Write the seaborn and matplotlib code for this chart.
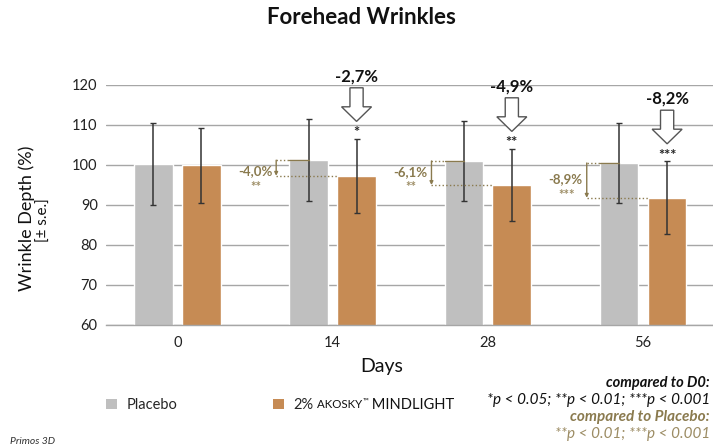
import matplotlib
matplotlib.use("Agg")
import matplotlib.pyplot as plt
from matplotlib.patches import FancyArrow, Patch
import seaborn as sns
import pandas as pd

# ---------------- data ----------------
days = ["0", "14", "28", "56"]
groups = ["Placebo", "2% AKOSKY™ MINDLIGHT"]
placebo = [100.2, 101.2, 101.0, 100.5]
active = [99.9, 97.3, 95.0, 91.8]
placebo_se = [10.3, 10.2, 9.9, 10.0]
active_se = [9.4, 9.2, 9.0, 9.1]
d0_change = ["", "-2,7%", "-4,9%", "-8,2%"]
d0_sig = ["", "*", "**", "***"]
pl_change = ["", "-4,0%", "-6,1%", "-8,9%"]
pl_sig = ["", "**", "**", "***"]

GRAY = "#BFBFBF"
BROWN = "#C68B54"
OLIVE = "#8A7A4E"
OLIVE_L = "#9C8C64"

sns.set_theme(style="white")
plt.rcParams["font.family"] = ["Lato", "DejaVu Sans"]

df = pd.DataFrame({
    "Days": days * 2,
    "value": placebo + active,
    "group": [groups[0]] * 4 + [groups[1]] * 4,
})

fig = plt.figure(figsize=(7.13, 4.46), dpi=100)
ax = fig.add_axes([106 / 713, 1 - 325 / 446, 1 - 106 / 713, (325 - 85) / 446])

sns.barplot(data=df, x="Days", y="value", hue="group", order=days,
            hue_order=groups, palette=[GRAY, BROWN], width=0.618, gap=0.194,
            errorbar=None, ax=ax, legend=False, zorder=2, saturation=1)

ax.set_ylim(60, 120)
ax.set_xlim(-0.459, 3.45)
ax.set_yticks(range(60, 121, 10))
ax.yaxis.grid(True, color="#A6A6A6", linewidth=1.0, zorder=0)
ax.set_axisbelow(True)
for s in ["top", "right", "left"]:
    ax.spines[s].set_visible(False)
ax.spines["bottom"].set_color("#A6A6A6")
ax.spines["bottom"].set_linewidth(1.0)
ax.tick_params(axis="both", length=0, labelsize=10.5, colors="#222222", pad=6)
ax.tick_params(axis="x", pad=8)
ax.set_xlabel("Days", fontsize=14, color="#111111", labelpad=6, x=0.455)
ax.set_ylabel("")

pl_bars = list(ax.containers[0])
ac_bars = list(ax.containers[1])

# error bars
for bars, v, se in [(pl_bars, placebo, placebo_se), (ac_bars, active, active_se)]:
    xs = [b.get_x() + b.get_width() / 2 for b in bars]
    ax.errorbar(xs, v, yerr=se, fmt="none", ecolor="#333333",
                elinewidth=1.1, capsize=2, capthick=1.0, zorder=3)

# annotations vs D0 (arrows) and vs placebo (brackets)
for i in range(len(days)):
    if not d0_change[i]:
        continue
    ab = ac_bars[i]
    xc = ab.get_x() + ab.get_width() / 2
    etop = active[i] + active_se[i]
    ax.text(xc, etop + 1.4, d0_sig[i], ha="center", va="center",
            fontsize=10.5, color="#222222", fontweight="bold")
    arr = FancyArrow(xc, etop + 12.8, 0, -8.4, width=0.085, head_width=0.193,
                     head_length=3.65, length_includes_head=True,
                     facecolor="white", edgecolor="#555555", linewidth=1.0,
                     zorder=4, clip_on=False)
    ax.add_patch(arr)
    ax.text(xc, etop + 15.7, d0_change[i], ha="center", va="center",
            fontsize=12, fontweight="bold", color="#111111", clip_on=False)

    pb = pl_bars[i]
    xl = pb.get_x()
    vx = xl - 0.084
    up, lo = placebo[i], active[i]
    ax.plot([vx, xl], [up, up], ls=":", color=OLIVE, lw=1.0, zorder=4)
    ax.plot([xl, xl + pb.get_width() / 2], [up, up], ls="-", color=OLIVE, lw=1.0, zorder=4)
    ax.plot([vx, ab.get_x()], [lo, lo], ls=":", color=OLIVE, lw=1.0, zorder=4)
    ax.annotate("", xy=(vx, lo), xytext=(vx, up),
                arrowprops=dict(arrowstyle="-|>", color=OLIVE, lw=1.0,
                                mutation_scale=5, shrinkA=0, shrinkB=0),
                zorder=4)
    mid = min((up + lo) / 2, 98.2) - 0.9
    ax.text(vx - 0.026, mid + 1.2, pl_change[i], ha="right", va="center",
            fontsize=9.5, fontweight="bold", color=OLIVE)
    ax.text(vx - 0.026 - 0.105, mid - 2.7, pl_sig[i], ha="center", va="center",
            fontsize=9.5, fontweight="bold", color=OLIVE_L)

# title and labels
fig.text(361 / 713, 1 - 18 / 446, "Forehead Wrinkles", ha="center", va="center",
         fontsize=16, fontweight="bold", color="#111111")
fig.text(27 / 713, 1 - 218 / 446, "Wrinkle Depth (%)", rotation=90, ha="center",
         va="center", fontsize=13, color="#111111")
fig.text(44 / 713, 1 - 220 / 446, "[± s.e.]", rotation=90, ha="center",
         va="center", fontsize=11, color="#111111")

# legend (second label written with small caps, as in the original)
label_parts = groups[1].split(" ")          # ["2%", "AKOSKY™", "MINDLIGHT"]
handles = [Patch(facecolor=GRAY, edgecolor="none"), Patch(facecolor=BROWN, edgecolor="none")]
leg = fig.legend(handles, [groups[0], label_parts[0]], loc="center left",
                 bbox_to_anchor=(100 / 713, 1 - 405 / 446),
                 ncol=2, frameon=False, fontsize=10.5, handlelength=0.75,
                 handleheight=0.75, handletextpad=0.7, columnspacing=6.5,
                 borderaxespad=0)
fig.canvas.draw()
renderer = fig.canvas.get_renderer()
t2 = leg.get_texts()[1]
bb = t2.get_window_extent(renderer)
x0 = bb.x1
ybase = (bb.y0 + bb.y1) / 2
brand = label_parts[1].rstrip("™")
pieces = [(" " + brand, 8.3, 0), ("™", 5.5, 4), (" " + label_parts[2], 10.5, 0)]
for txt, fs, dy in pieces:
    t = fig.text(x0 / fig.bbox.width, (ybase + dy) / fig.bbox.height, txt,
                 ha="left", va="center", fontsize=fs, color="#111111")
    x0 = t.get_window_extent(renderer).x1

# significance notes
fig.text(710 / 713, 1 - 383 / 446, "compared to D0:", ha="right", va="center",
         fontsize=10.5, fontweight="bold", fontstyle="italic", color="#111111")
fig.text(710 / 713, 1 - 400 / 446, "*p < 0.05; **p < 0.01; ***p < 0.001", ha="right",
         va="center", fontsize=11, fontstyle="italic", color="#111111")
fig.text(710 / 713, 1 - 417 / 446, "compared to Placebo:", ha="right", va="center",
         fontsize=11, fontweight="bold", fontstyle="italic", color=OLIVE)
fig.text(710 / 713, 1 - 434 / 446, "**p < 0.01; ***p < 0.001", ha="right",
         va="center", fontsize=11, fontstyle="italic", color=OLIVE_L)
fig.text(10 / 713, 1 - 442 / 446, "Primos 3D", ha="left", va="center",
         fontsize=7.5, fontstyle="italic", color="#333333")

fig.savefig("out.png", dpi=100)
